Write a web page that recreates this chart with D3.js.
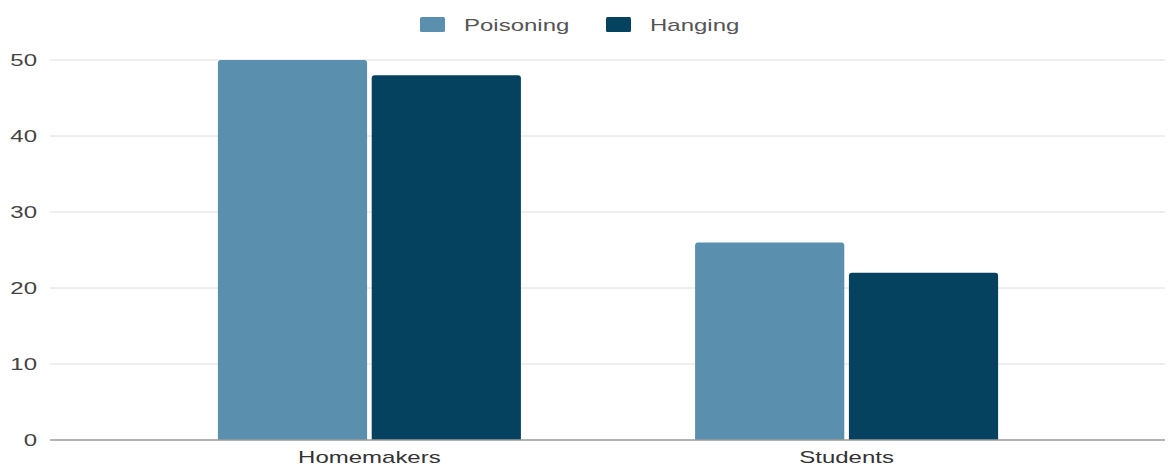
<!DOCTYPE html>
<html><head><meta charset="utf-8">
<script src="https://cdn.jsdelivr.net/npm/d3@7"></script>
<style>body{margin:0;background:#fff;}svg{display:block;font-family:"Liberation Sans",Arial,sans-serif;}</style>
</head><body>
<svg id="c" width="1168" height="469"></svg>
<script>
const categories = ["Homemakers", "Students"];
const seriesNames = ["Poisoning", "Hanging"];
const poisoning = [50, 26];
const hanging = [48, 22];
const yTicks = [0, 10, 20, 30, 40, 50];
const colors = ["#5a8fae", "#05425f"];

const SX = 1.5; // horizontal text stretch seen in the reference
const svg = d3.select("#c");
const y = d3.scaleLinear().domain([0, 50]).range([440, 60]);
const x0 = d3.scaleBand().domain(categories).range([132, 1084]).paddingInner(0.365).paddingOuter(0.18);
const x1 = d3.scaleBand().domain(seriesNames).range([0, x0.bandwidth()]).paddingInner(0.03);

// gridlines
svg.append("g").selectAll("line").data(yTicks.filter(d => d !== 0)).join("line")
  .attr("x1", 50).attr("x2", 1165).attr("y1", d => y(d)).attr("y2", d => y(d))
  .attr("stroke", "#dedede").attr("stroke-width", 1);

const yAxis = d3.axisLeft(y).tickValues(yTicks).tickSize(0).tickPadding(0);
const ga = svg.append("g").attr("transform", "translate(37,0)").call(yAxis);
ga.select(".domain").remove();
ga.selectAll("text").attr("font-size", 16).attr("fill", "#444")
  .attr("font-family", "Liberation Sans, Arial, sans-serif")
  .attr("x", 0).attr("dy", "0.36em").attr("transform", `scale(${SX},1)`);

const data = categories.map((c, i) => ({cat: c, vals: [poisoning[i], hanging[i]]}));
const groups = svg.append("g").selectAll("g").data(data).join("g")
  .attr("transform", d => `translate(${x0(d.cat)},0)`);
groups.selectAll("path").data(d => d.vals.map((v, j) => ({s: seriesNames[j], v, j}))).join("path")
  .attr("fill", d => colors[d.j])
  .attr("d", d => {
    const x = x1(d.s), w = x1.bandwidth(), top = y(d.v), b = y(0), r = 3;
    return `M${x},${b}V${top + r}Q${x},${top} ${x + r},${top}H${x + w - r}Q${x + w},${top} ${x + w},${top + r}V${b}Z`;
  });

// baseline
svg.append("line").attr("x1", 50).attr("x2", 1165).attr("y1", y(0)).attr("y2", y(0))
  .attr("stroke", "#9a9a9a").attr("stroke-width", 1.5);

// x labels
const xAxis = d3.axisBottom(x0).tickSize(0).tickPadding(0);
const gx = svg.append("g").attr("transform", `translate(0,${y(0) + 23})`).call(xAxis);
gx.select(".domain").remove();
gx.selectAll("text").attr("font-size", 16).attr("fill", "#333")
  .attr("font-family", "Liberation Sans, Arial, sans-serif")
  .attr("y", 0).attr("dy", 0).attr("transform", `scale(${SX},1)`);

// legend
const legendX = [420, 606];
const lg = svg.append("g").selectAll("g").data(seriesNames).join("g")
  .attr("transform", (d, i) => `translate(${legendX[i]},17)`);
lg.append("rect").attr("width", 25).attr("height", 15).attr("rx", 1.5).attr("fill", (d, i) => colors[i]);
lg.append("g").attr("transform", "translate(44,14)")
  .append("text").attr("font-size", 16).attr("fill", "#555")
  .attr("transform", `scale(${SX},1)`).text(d => d);
</script>
</body></html>
